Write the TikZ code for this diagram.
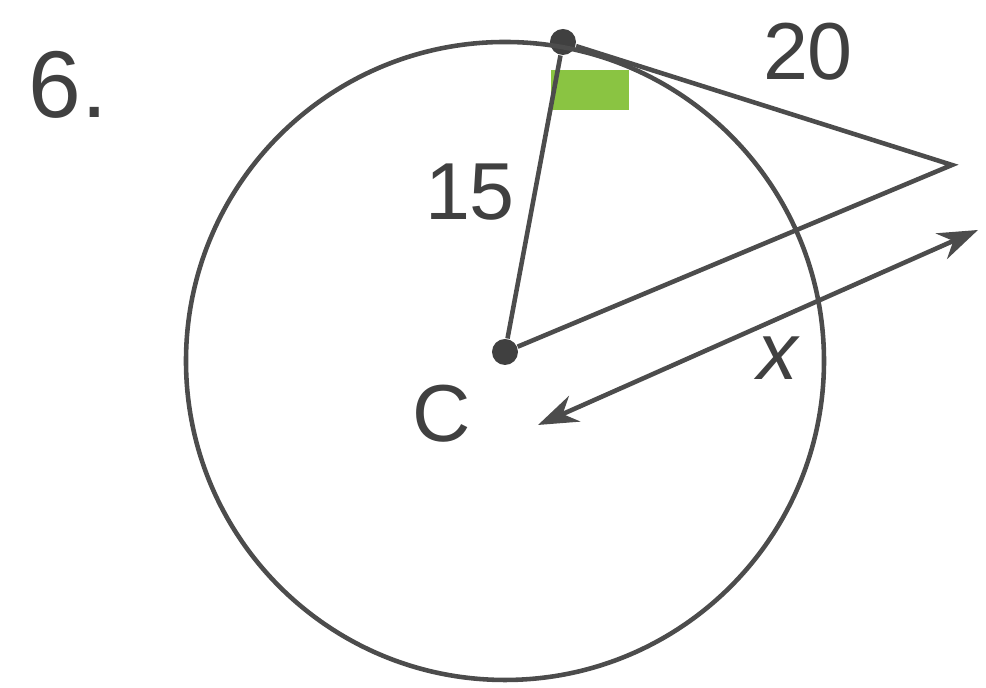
\documentclass[tikz,border=0pt]{standalone}
\usepackage{fontspec}
\setmainfont{Liberation Sans}
\usepackage{xcolor}
\definecolor{markgreen}{RGB}{138,196,66}
\usetikzlibrary{arrows.meta,calc}

\begin{document}
\begin{tikzpicture}[
  font=\fontsize{23}{26}\selectfont,
  seg/.style  = {line width=1.3pt, black!70},
  dot/.style  = {circle, fill=black!75, inner sep=0pt, minimum size=2.6mm},
  dbl/.style  = {{Stealth[length=4mm,width=2.8mm]}-{Stealth[length=4mm,width=2.8mm]},
                 line width=1.3pt, black!70},
  lbl/.style  = {text=black!75, inner sep=1pt},
]
\useasboundingbox (0,0) rectangle (9.86,6.88);

\coordinate (O) at (5.05,3.27);
\node[dot] at (5.05,3.36) (C) {};
\node[dot] at (5.63,6.46) (T) {};
\coordinate (P) at (9.52,5.23);
\coordinate (A) at (5.38,2.63);
\coordinate (B) at (9.78,4.58);

% right angle mark
\fill[markgreen] ([shift={(-0.12,-0.28)}]T.center) rectangle ([shift={(0.66,-0.68)}]T.center);

\draw[seg] (O) circle (3.19);
\draw[seg] (C) -- (T);
\draw[seg] (T) -- (P) -- (C);
\draw[dbl] (A) -- (B);

\node[lbl, font=\fontsize{27}{30}\selectfont] at (0.68,6.03) (num) {6.};
\node[lbl] at (4.70,4.96) (r)  {15};
\node[lbl] at (8.08,6.36) (t)  {20};
\node[lbl] at (4.42,2.74) (cl) {C};
\node[lbl] at (7.78,3.30) (x)  {\itshape x};
\end{tikzpicture}
\end{document}
